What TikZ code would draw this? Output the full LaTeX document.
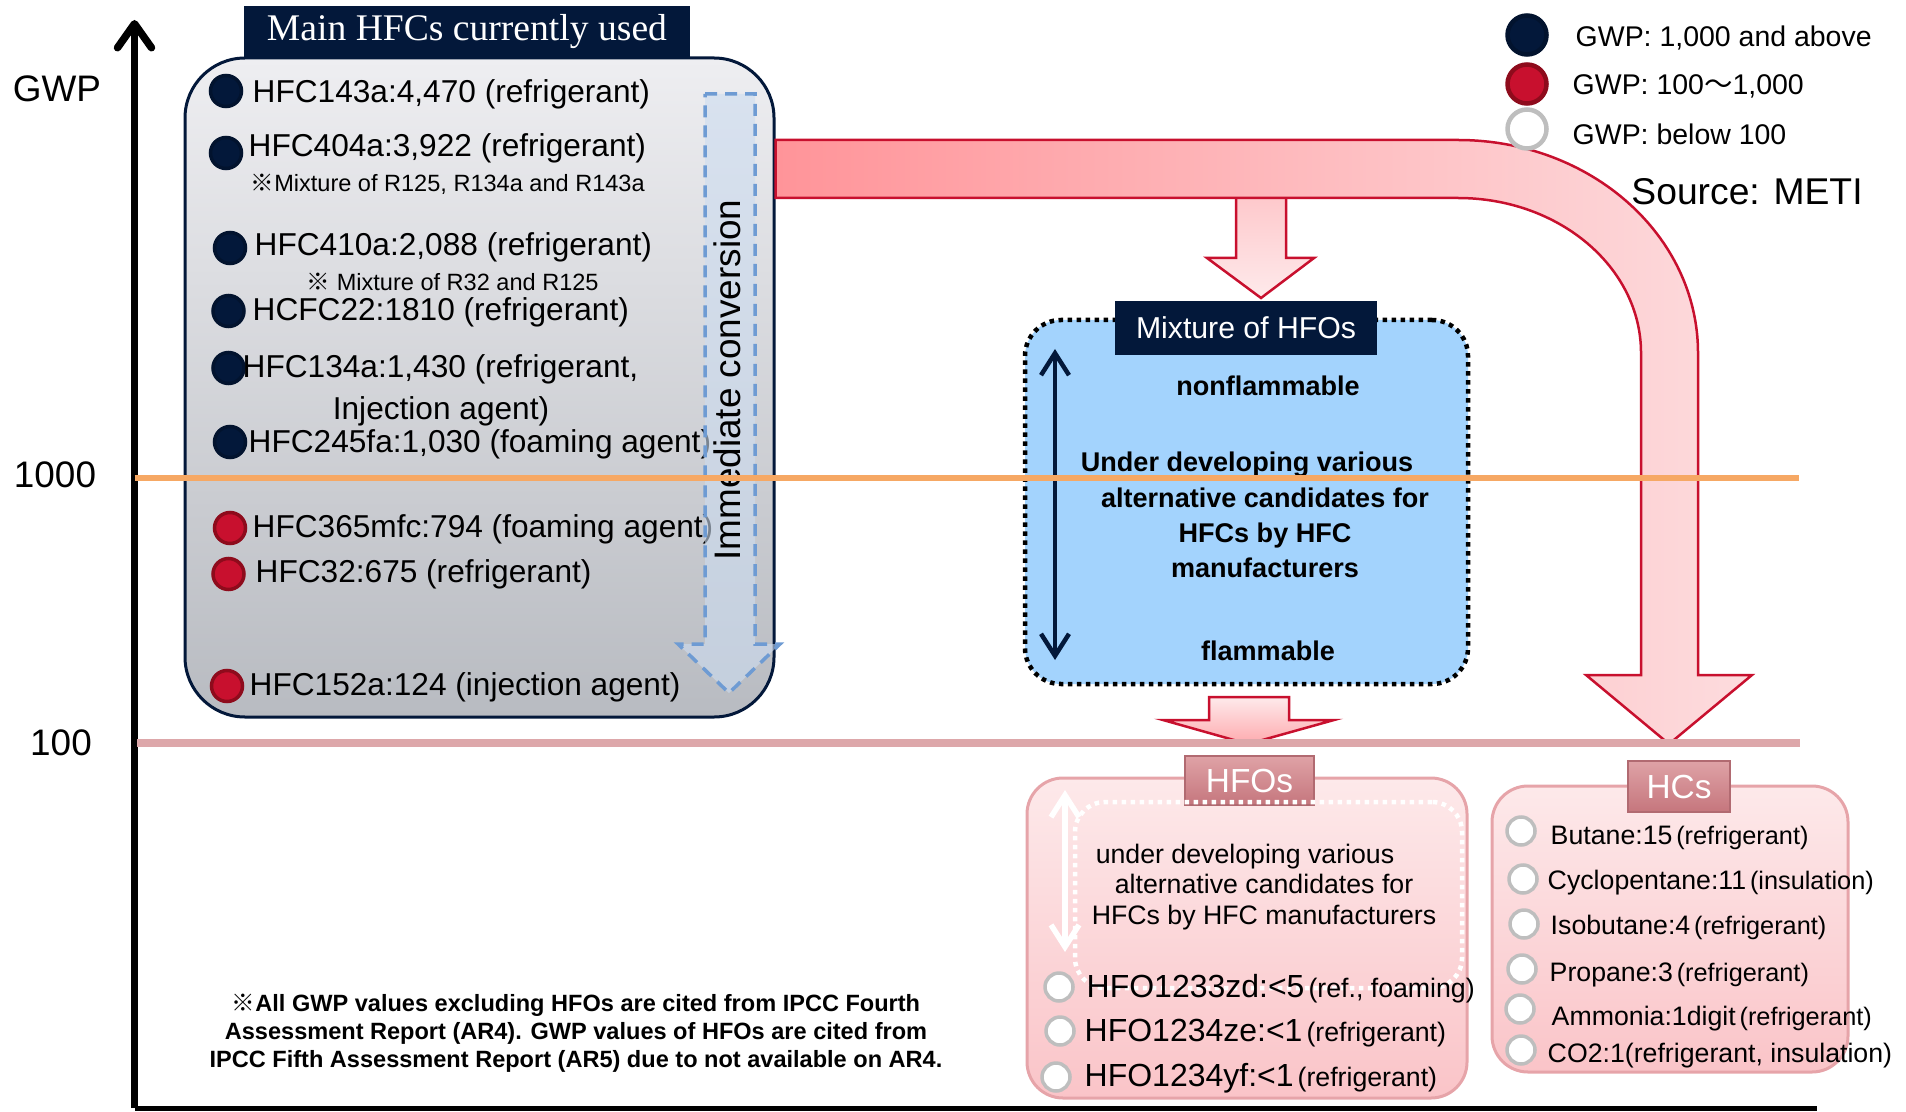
\documentclass[tikz,border=0pt]{standalone}
\usepackage{fontspec}
\setmainfont{Liberation Sans}
\newfontfamily\titlefont{Liberation Serif}
\newfontfamily\cjkfont{Noto Sans CJK JP}
\usetikzlibrary{arrows.meta}

\definecolor{navy}{HTML}{03183A}
\definecolor{dotred}{HTML}{C8102E}
\definecolor{dotrim}{HTML}{8E0B1C}
\definecolor{ring}{HTML}{BEBEBE}
\definecolor{arrowred}{HTML}{C8102E}
\definecolor{bandleft}{HTML}{FF9499}
\definecolor{bandright}{HTML}{FDDCDE}
\definecolor{sky}{HTML}{A3D3FD}
\definecolor{convblue}{HTML}{6E9BD3}
\definecolor{boxtop}{HTML}{EEEEF1}
\definecolor{boxbottom}{HTML}{B8BBC1}
\definecolor{pinktop}{HTML}{FDE9EA}
\definecolor{pinkbottom}{HTML}{FAC4C8}
\definecolor{pinkrim}{HTML}{E6A4A9}
\definecolor{tabtop}{HTML}{DFA2A6}
\definecolor{tabbottom}{HTML}{C5767D}
\definecolor{orangeline}{HTML}{F6A864}
\definecolor{roseline}{HTML}{DDA7AA}

\newcommand{\kome}{{\cjkfont ※}}
\newcommand{\kara}{{\cjkfont ～}}
\newcommand{\purpose}[2][7.2]{{\fontsize{#1}{9}\selectfont\hspace{0.15em}(#2)}}

\begin{document}
\begin{tikzpicture}[x=10mm,y=-10mm,font=\fontsize{9}{11}\selectfont,
  gwp dot/.style={circle,inner sep=0pt,minimum size=3.1mm,line width=0.35mm},
  dark dot/.style={gwp dot,draw=navy!80!black,fill=navy},
  red dot/.style={gwp dot,draw=dotrim,fill=dotred},
  grey dot/.style={gwp dot,draw=ring,fill=white,minimum size=2.8mm},
  key dot/.style={minimum size=3.9mm,line width=0.45mm},
  entry/.style={anchor=west,inner sep=0pt},
  note/.style={anchor=west,inner sep=0pt,font=\fontsize{6.7}{8}\selectfont},
  hfo entry/.style={entry,font=\fontsize{9.1}{11}\selectfont},
  hc entry/.style={entry,font=\fontsize{7.6}{9}\selectfont},
  headbox/.style={fill=navy,text=white,inner sep=0pt},
  tab/.style={top color=tabtop,bottom color=tabbottom,draw=tabbottom!90!black,line width=0.2mm,
    text=white,inner sep=0pt,font=\fontsize{9.5}{11}\selectfont},
  pinkbox/.style={rounded corners=3.6mm,top color=pinktop,bottom color=pinkbottom,
    draw=pinkrim,line width=0.3mm,inner sep=0pt},
  block/.style={draw=arrowred,line width=0.25mm,line join=miter},
  barbs/.style={line width=0.45mm,
    {Straight Barb[length=2.2mm,width=2.8mm]}-{Straight Barb[length=2.2mm,width=2.8mm]}}]

  \useasboundingbox (0,0) rectangle (19.06,11.12);

  % GWP axis
  \coordinate (origin) at (1.345,11.08);
  \coordinate (gwp top) at (1.345,0.20);
  \coordinate (axis end) at (18.17,11.08);
  \draw[line width=0.75mm,-{Straight Barb[length=2.4mm,width=3.4mm,round]}] (origin) -- (gwp top);
  \draw[line width=0.5mm] (origin) -- (axis end);
  \node (gwp) [font=\fontsize{10.5}{12}\selectfont] at (0.57,0.89) {GWP};
  \node (v1000) [font=\fontsize{10.5}{12}\selectfont] at (0.55,4.75) {1000};
  \node (v100) [font=\fontsize{10.5}{12}\selectfont] at (0.61,7.43) {100};

  % HFCs in use
  \node (hfcbox) [draw=navy,line width=0.3mm,rounded corners=6mm,top color=boxtop,bottom color=boxbottom,
    minimum width=58.9mm,minimum height=65.9mm,inner sep=0pt] at (4.795,3.875) {};
  \node (hfchead) [headbox,minimum width=44.6mm,minimum height=5.1mm,
    font=\titlefont\fontsize{10.7}{12}\selectfont] at (4.67,0.315) {Main HFCs currently used};

  \node (d1) [dark dot] at (2.26,0.91) {};
  \node (e1) [entry] at (2.52,0.94) {HFC143a:4,470 (refrigerant)};
  \node (d2) [dark dot] at (2.26,1.53) {};
  \node (e2) [entry] at (2.48,1.48) {HFC404a:3,922 (refrigerant)};
  \node (n2) [note] at (2.50,1.84) {\kome Mixture of R125, R134a and R143a};
  \node (d3) [dark dot] at (2.30,2.48) {};
  \node (e3) [entry] at (2.54,2.47) {HFC410a:2,088 (refrigerant)};
  \node (n3) [note] at (3.06,2.82) {\kome\ Mixture of R32 and R125};
  \node (d4) [dark dot] at (2.285,3.11) {};
  \node (e4) [entry] at (2.52,3.12) {HCFC22:1810 (refrigerant)};
  \node (d5) [dark dot] at (2.285,3.68) {};
  \node (e5) [entry] at (2.42,3.69) {HFC134a:1,430 (refrigerant,};
  \node (e5b) at (4.41,4.11) {Injection agent)};
  \node (d6) [dark dot] at (2.30,4.42) {};
  \node (e6) [entry] at (2.48,4.44) {HFC245fa:1,030 (foaming agent)};
  \node (d7) [red dot] at (2.30,5.28) {};
  \node (e7) [entry] at (2.52,5.29) {HFC365mfc:794 (foaming agent)};
  \node (d8) [red dot] at (2.285,5.74) {};
  \node (e8) [entry] at (2.55,5.74) {HFC32:675 (refrigerant)};
  \node (d9) [red dot] at (2.27,6.86) {};
  \node (e9) [entry] at (2.49,6.87) {HFC152a:124 (injection agent)};

  % dashed conversion arrow
  \draw[convblue,line width=0.35mm,dash pattern=on 1.2mm off 0.8mm,fill=convblue!35,fill opacity=0.6]
    (7.05,0.94) -- (7.55,0.94) -- (7.55,6.44) -- (7.80,6.44) -- (7.29,6.93)
    -- (6.78,6.44) -- (7.05,6.44) -- cycle;
  \node (conv) [rotate=90,font=\fontsize{10.5}{12}\selectfont] at (7.27,3.80) {Immediate conversion};

  % branch down to the mixtures
  \shade[block,top color=bandright!70!bandleft,bottom color=bandright!60!white]
    (12.36,1.90) -- (12.36,2.58) -- (12.07,2.58) -- (12.61,2.98) -- (13.14,2.58)
    -- (12.86,2.58) -- (12.86,1.90);

  % bent arrow over to the HCs
  \shade[block,left color=bandleft,right color=bandright]
    (hfcbox.east |- 0,1.40) -- (14.58,1.40)
    arc[start angle=-90,end angle=0,x radius=2.40,y radius=2.13]
    -- (16.98,6.75) -- (17.52,6.75) -- (16.69,7.44) -- (15.86,6.75) -- (16.41,6.75)
    -- (16.41,3.53) arc[start angle=0,end angle=-90,x radius=1.83,y radius=1.55]
    -- (hfcbox.east |- 0,1.98) -- cycle;

  % mixture of HFOs
  \node (mixbox) [draw,line width=0.45mm,dash pattern=on 0.45mm off 0.45mm,rounded corners=3.6mm,
    fill=sky,minimum width=44.3mm,minimum height=36.4mm,inner sep=0pt] at (12.465,5.02) {};
  \node (mixhead) [headbox,minimum width=26.2mm,minimum height=5.4mm,
    font=\fontsize{8.6}{10}\selectfont] at (12.46,3.28) {Mixture of HFOs};
  \coordinate (nf end) at (10.55,3.49);
  \coordinate (fl end) at (10.55,6.60);
  \draw[barbs,navy] (nf end) -- (fl end);
  \node (nonfl) [font=\bfseries\fontsize{7.7}{9}\selectfont] at (12.68,3.86) {nonflammable};
  \node (mixtext) [align=center,font=\bfseries\fontsize{7.7}{10}\selectfont] at (12.65,5.15)
    {Under developing various\hspace*{3.6mm}\\alternative candidates for\\HFCs by HFC\\manufacturers};
  \node (fl) [font=\bfseries\fontsize{7.7}{9}\selectfont] at (12.68,6.51) {flammable};

  \shade[block,top color=bandright!60!white,bottom color=bandleft!70!bandright]
    (12.09,6.97) -- (12.89,6.97) -- (12.89,7.20) -- (13.34,7.20) -- (12.48,7.44)
    -- (11.63,7.20) -- (12.09,7.20) -- cycle;

  % HFOs
  \node (hfobox) [pinkbox,minimum width=44mm,minimum height=32mm] at (12.47,9.38) {};
  \node (hfotab) [tab,minimum width=12.9mm,minimum height=4.9mm] at (12.495,7.805) {HFOs};
  \node (devbox) [draw=white,line width=0.45mm,dash pattern=on 0.45mm off 0.45mm,rounded corners=3mm,
    minimum width=38.7mm,minimum height=18.6mm,inner sep=0pt] at (12.685,8.95) {};
  \coordinate (w top) at (10.65,7.90);
  \coordinate (w bottom) at (10.65,9.52);
  \draw[barbs,white,line width=0.55mm] (w top) -- (w bottom);
  \node (devtext) [align=center,font=\fontsize{7.6}{8.6}\selectfont] at (12.64,8.87)
    {under developing various\hspace*{3.8mm}\\alternative candidates for\\HFCs by HFC manufacturers};
  \node (o1) [grey dot] at (10.59,9.87) {};
  \node (f1) [hfo entry] at (10.86,9.89) {HFO1233zd:<5\purpose[7.6]{ref., foaming}};
  \node (o2) [grey dot] at (10.60,10.31) {};
  \node (f2) [hfo entry] at (10.84,10.33) {HFO1234ze:<1\purpose[7.6]{refrigerant}};
  \node (o3) [grey dot] at (10.56,10.77) {};
  \node (f3) [hfo entry] at (10.84,10.78) {HFO1234yf:<1\purpose[7.6]{refrigerant}};

  % HCs
  \node (hcbox) [pinkbox,minimum width=35.6mm,minimum height=28.6mm] at (16.70,9.29) {};
  \node (hctab) [tab,minimum width=10.2mm,minimum height=5.1mm] at (16.79,7.865) {HCs};
  \node (c1) [grey dot] at (15.21,8.31) {};
  \node (h1) [hc entry] at (15.50,8.38) {Butane:15\purpose{refrigerant}};
  \node (c2) [grey dot] at (15.23,8.79) {};
  \node (h2) [hc entry] at (15.47,8.83) {Cyclopentane:11\purpose{insulation}};
  \node (c3) [grey dot] at (15.24,9.24) {};
  \node (h3) [hc entry] at (15.50,9.27) {Isobutane:4\purpose{refrigerant}};
  \node (c4) [grey dot] at (15.22,9.69) {};
  \node (h4) [hc entry] at (15.49,9.75) {Propane:3\purpose{refrigerant}};
  \node (c5) [grey dot] at (15.20,10.09) {};
  \node (h5) [hc entry] at (15.51,10.19) {Ammonia:1digit\purpose{refrigerant}};
  \node (c6) [grey dot] at (15.21,10.50) {};
  \node (h6) [hc entry] at (15.47,10.56) {CO2:1(refrigerant, insulation)};

  % legend
  \node (k1) [dark dot,key dot] at (15.27,0.35) {};
  \node (l1) [entry,font=\fontsize{8.1}{10}\selectfont] at (15.75,0.38) {GWP: 1,000 and above};
  \node (k2) [red dot,key dot] at (15.27,0.84) {};
  \node (l2) [entry,font=\fontsize{8.1}{10}\selectfont] at (15.72,0.86) {GWP: 100\kara 1,000};
  \node (k3) [grey dot,key dot] at (15.27,1.29) {};
  \node (l3) [entry,font=\fontsize{8.1}{10}\selectfont] at (15.72,1.34) {GWP: below 100};
  \node (src) [font=\fontsize{10.6}{12}\selectfont] at (17.47,1.92) {Source: METI};

  \node (footnote) [align=center,font=\bfseries\fontsize{6.7}{8}\selectfont] at (5.76,10.335)
    {\kome All GWP values excluding HFOs are cited from IPCC Fourth\\
     Assessment Report (AR4). GWP values of HFOs are cited from\\
     IPCC Fifth Assessment Report (AR5) due to not available on AR4.};

  % GWP levels 1000 and 100
  \draw[orangeline,line width=0.55mm] (origin |- 0,4.78) -- (17.99,4.78);
  \draw[roseline,line width=0.75mm] (1.37,7.43) -- (18.00,7.43);
\end{tikzpicture}
\end{document}
